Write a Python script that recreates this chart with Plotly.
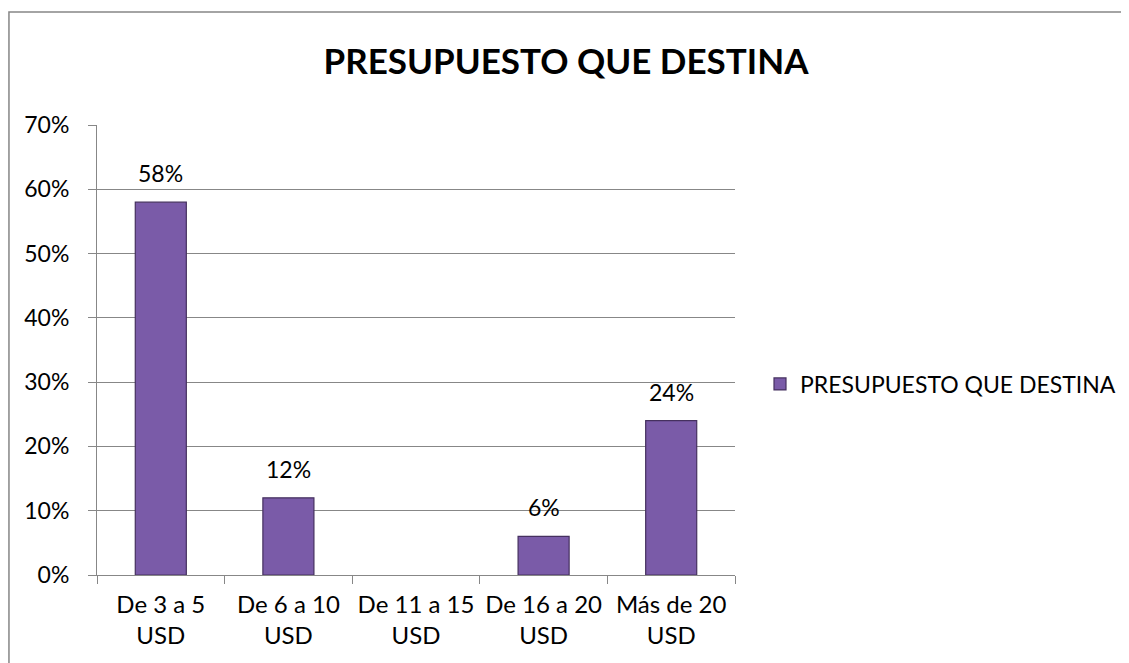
import plotly.graph_objects as go

categories = ["De 3 a 5<br>USD", "De 6 a 10<br>USD", "De 11 a 15<br>USD", "De 16 a 20<br>USD", "Más de 20<br>USD"]
values = [0.58, 0.12, None, 0.06, 0.24]
series_name = "PRESUPUESTO QUE DESTINA"
title_text = "PRESUPUESTO QUE DESTINA"
y_ticks = [0, 0.1, 0.2, 0.3, 0.4, 0.5, 0.6, 0.7]

FONT = "Lato, 'Open Sans', sans-serif"
GRID = "#878787"

OFF = 8  # page body margin
W, H = 1129 - 2 * OFF, 663 - OFF
# plot area in figure pixels (screen coordinates minus page margin)
L, R, T, B = 97 - OFF, 735 - OFF, 125 - OFF, 575 - OFF
pw, ph = R - L, B - T

fig = go.Figure()
fig.add_trace(go.Bar(
    x=categories, y=values, name=series_name,
    marker=dict(color="#7A5BA8", line=dict(color="#45305F", width=1.2)),
    width=0.4,
))

annotations = []
for c, v in zip(categories, values):
    if v is None:
        continue
    annotations.append(dict(x=c, y=v, xref="x", yref="y", text=f"{round(v*100)}%",
                            showarrow=False, yanchor="bottom", yshift=13,
                            font=dict(family=FONT, size=23, color="#000000")))

fig.update_layout(
    width=W, height=H,
    margin=dict(l=L, r=W - R, t=T, b=H - B, pad=0, autoexpand=False),
    paper_bgcolor="white", plot_bgcolor="white",
    font=dict(family=FONT, size=23, color="#000000"),
    title=dict(text=f"<b>{title_text}</b>", x=(566 - OFF) / W, xanchor="center",
               y=1 - (62 - OFF) / H, yanchor="middle", yref="container",
               font=dict(family=FONT, size=35, color="#000000")),
    showlegend=True,
    legend=dict(x=(760 - OFF - L) / pw, xanchor="left", y=(B - (384 - OFF)) / ph, yanchor="middle",
                font=dict(family=FONT, size=23, color="#000000"),
                bgcolor="rgba(0,0,0,0)", itemwidth=30),
    xaxis=dict(type="category", tickson="boundaries", ticks="outside", ticklen=8,
               tickcolor=GRID, showline=True, linecolor=GRID, linewidth=1,
               showgrid=False, ticklabelstandoff=8, tickangle=0, automargin=False,
               tickfont=dict(family=FONT, size=24)),
    yaxis=dict(range=[0, 0.7], tickvals=y_ticks, tickformat=".0%", ticks="outside",
               ticklen=8, tickcolor=GRID, showline=True, linecolor=GRID, linewidth=1,
               showgrid=True, gridcolor=GRID, gridwidth=1, zeroline=False,
               ticklabelstandoff=14, automargin=False, tickfont=dict(family=FONT, size=23)),
    annotations=annotations,
    shapes=[dict(type="rect", xref="paper", yref="paper",
                 x0=(8 - OFF - L) / pw + 0.0015, x1=(1160 - OFF - L) / pw,
                 y0=(B - 700) / ph, y1=(B - (12 - OFF)) / ph,
                 line=dict(color="#868686", width=1.5), fillcolor="rgba(0,0,0,0)",
                 layer="below")],
)

fig.write_html("out.html")
